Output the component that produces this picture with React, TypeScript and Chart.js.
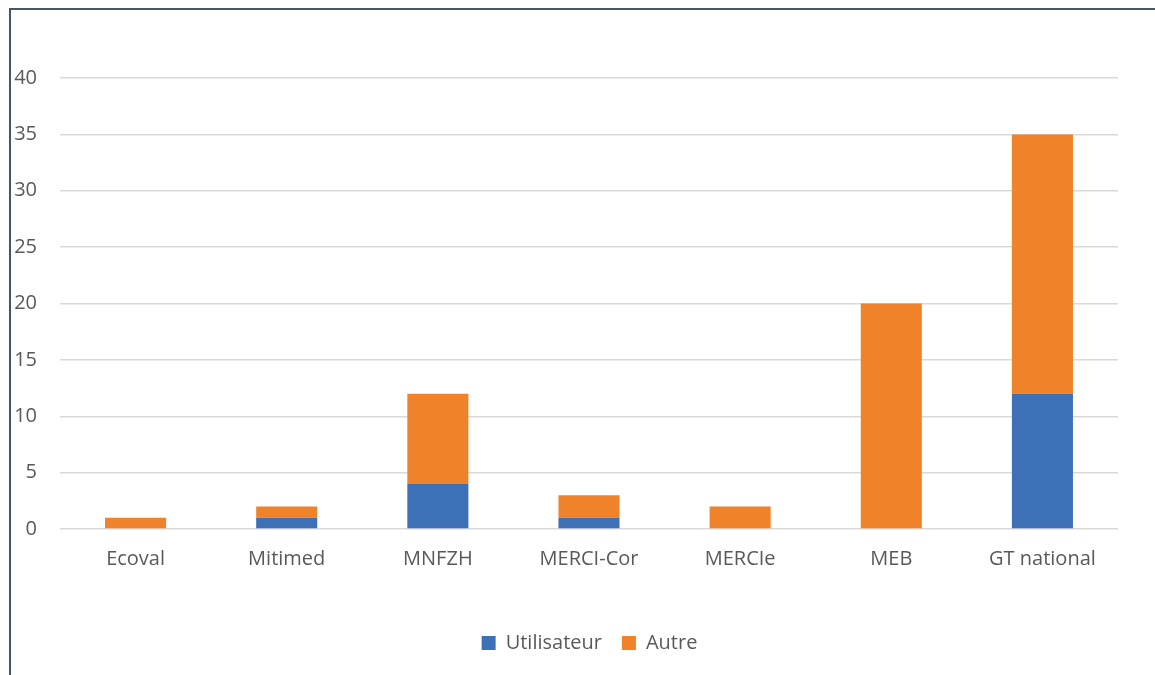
import React, { useEffect, useRef } from "react";
import { Chart, registerables } from "chart.js";

Chart.register(...registerables);

const categories = ["Ecoval", "Mitimed", "MNFZH", "MERCI-Cor", "MERCIe", "MEB", "GT national"];
const utilisateur = [0, 1, 4, 1, 0, 0, 12];
const autre = [1, 1, 8, 2, 2, 20, 23];
const yTicksMax = 40;
const yStep = 5;

const FONT = "'Open Sans', sans-serif";
const GRAY = "#595959";

export default function App() {
  const ref = useRef<HTMLCanvasElement>(null);
  useEffect(() => {
    if (!ref.current) return;
    const chart = new Chart(ref.current, {
      type: "bar",
      data: {
        labels: categories,
        datasets: [
          { label: "Utilisateur", data: utilisateur, backgroundColor: "#3E70B8", borderWidth: 0 },
          { label: "Autre", data: autre, backgroundColor: "#F0822A", borderWidth: 0 },
        ],
      },
      options: {
        responsive: false,
        animation: false,
        layout: { padding: { left: 0, right: -24, top: 78, bottom: 27 } },
        datasets: { bar: { barPercentage: 0.404, categoryPercentage: 1 } },
        plugins: {
          tooltip: { enabled: false },
          legend: {
            position: "bottom",
            labels: {
              boxWidth: 14,
              boxHeight: 14,
              padding: 20,
              color: GRAY,
              font: { family: FONT, size: 20 },
            },
          },
        },
        scales: {
          x: {
            stacked: true,
            grid: { display: false, drawTicks: false },
            border: { display: false },
            ticks: { color: GRAY, font: { family: FONT, size: 20 }, padding: 18, maxRotation: 0 },
            afterFit: (s: any) => { s.height = 84; },
          },
          y: {
            stacked: true,
            min: 0,
            max: yTicksMax,
            grid: { color: "#D9D9D9", lineWidth: 1.5, drawTicks: false },
            border: { display: false },
            ticks: { stepSize: yStep, color: GRAY, font: { family: FONT, size: 20 }, padding: 23 },
            afterFit: (s: any) => { s.width = 60; },
          },
          yR: {
            type: "linear",
            position: "right",
            display: true,
            grid: { display: false, drawTicks: false },
            border: { display: false },
            ticks: { display: false },
            afterFit: (s: any) => { s.width = 61; },
          },
        },
      },
    });
    return () => chart.destroy();
  }, []);
  return (
    <div style={{ position: "fixed", left: 0, top: 0, width: 1155, height: 675, overflow: "hidden", background: "#fff" }}>
      <canvas ref={ref} width={1155} height={690} style={{ position: "absolute", left: 0, top: 0, width: 1155, height: 690 }} />
      <div style={{ position: "absolute", left: 9, top: 8, width: 1300, height: 800, borderLeft: "2px solid #45556B", borderTop: "2px solid #45556B", pointerEvents: "none" }} />
    </div>
  );
}
